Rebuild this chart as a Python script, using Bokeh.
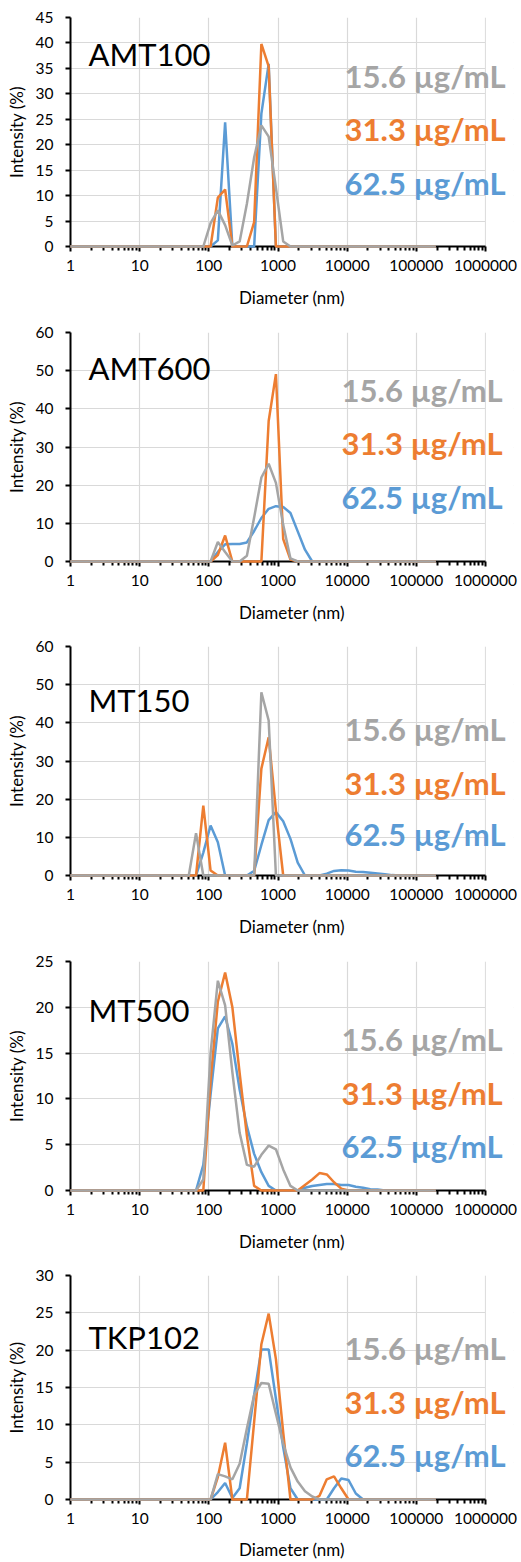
from bokeh.plotting import figure
from bokeh.models import (Label, FixedTicker, SingleIntervalTicker, CustomJSTickFormatter,
                          Range1d, BoxAnnotation)
from bokeh.layouts import column
from bokeh.embed import file_html
from bokeh.resources import INLINE

# ---------------- data ----------------
diameter_nm = [1.0, 1.36, 1.74, 2.21, 2.82, 3.59, 4.57, 5.82, 7.41, 9.44,
               12.0, 15.3, 19.5, 24.8, 31.6, 40.3, 51.3, 65.3, 83.2, 106,
               135, 172, 219, 279, 355, 452, 575, 733, 933, 1189,
               1514, 1928, 2455, 3126, 3981, 5070, 6457, 8222, 10471, 13335,
               16982, 21627, 27542, 35075, 44668, 56885, 72444, 92257, 117490, 149624,
               190546]

panel_names = ["AMT100", "AMT600", "MT150", "MT500", "TKP102"]
concentrations = ["15.6 µg/mL", "31.3 µg/mL", "62.5 µg/mL"]
y_max = [45, 60, 60, 25, 30]
y_step = [5, 10, 10, 5, 5]
x_ticks = [1, 10, 100, 1000, 10000, 100000, 1000000]

amt100_15_6 = [0, 0, 0, 0, 0, 0, 0, 0, 0, 0, 0, 0, 0, 0, 0, 0, 0,
               0, 0, 4.6, 7.1, 4.2, 0.2, 1.0, 8.4, 17.5, 23.8, 21.6, 11.5, 1.0, 0, 0, 0, 0,
               0, 0, 0, 0, 0, 0, 0, 0, 0, 0, 0, 0, 0, 0, 0, 0, 0]
amt100_31_3 = [0, 0, 0, 0, 0, 0, 0, 0, 0, 0, 0, 0, 0, 0, 0, 0, 0,
               0, 0, 0, 9.6, 11.2, 0, 0, 0, 4.8, 39.8, 35.4, 0, 0, 0, 0, 0, 0,
               0, 0, 0, 0, 0, 0, 0, 0, 0, 0, 0, 0, 0, 0, 0, 0, 0]
amt100_62_5 = [0, 0, 0, 0, 0, 0, 0, 0, 0, 0, 0, 0, 0, 0, 0, 0, 0,
               0, 0, 0, 1.2, 24.4, 0, 0, 0, 0, 26.1, 35.9, 0, 0, 0, 0, 0, 0,
               0, 0, 0, 0, 0, 0, 0, 0, 0, 0, 0, 0, 0, 0, 0, 0, 0]

amt600_15_6 = [0, 0, 0, 0, 0, 0, 0, 0, 0, 0, 0, 0, 0, 0, 0, 0, 0,
               0, 0, 0, 5.1, 2.5, 0, 0, 1.5, 11.5, 22.0, 25.6, 20.6, 9.6, 0.8, 0, 0, 0,
               0, 0, 0, 0, 0, 0, 0, 0, 0, 0, 0, 0, 0, 0, 0, 0, 0]
amt600_31_3 = [0, 0, 0, 0, 0, 0, 0, 0, 0, 0, 0, 0, 0, 0, 0, 0, 0,
               0, 0, 0, 1.7, 6.8, 0, 0, 0, 0, 0, 36.8, 49.1, 5.9, 0.5, 0, 0, 0,
               0, 0, 0, 0, 0, 0, 0, 0, 0, 0, 0, 0, 0, 0, 0, 0, 0]
amt600_62_5 = [0, 0, 0, 0, 0, 0, 0, 0, 0, 0, 0, 0, 0, 0, 0, 0, 0,
               0, 0, 0, 2.5, 4.5, 4.6, 4.6, 5.0, 8.0, 11.4, 13.8, 14.5, 14.3, 12.7, 7.9, 3.1, 0,
               0, 0, 0, 0, 0, 0, 0, 0, 0, 0, 0, 0, 0, 0, 0, 0, 0]

mt150_15_6 = [0, 0, 0, 0, 0, 0, 0, 0, 0, 0, 0, 0, 0, 0, 0, 0, 0,
              11.1, 0, 0, 0, 0, 0, 0, 0, 0, 48.0, 40.6, 0, 0, 0, 0, 0, 0,
              0, 0, 0, 0, 0, 0, 0, 0, 0, 0, 0, 0, 0, 0, 0, 0, 0]
mt150_31_3 = [0, 0, 0, 0, 0, 0, 0, 0, 0, 0, 0, 0, 0, 0, 0, 0, 0,
              0, 18.3, 1.3, 0, 0, 0, 0, 0, 0, 28.0, 36.2, 17.0, 0, 0, 0, 0, 0,
              0, 0, 0, 0, 0, 0, 0, 0, 0, 0, 0, 0, 0, 0, 0, 0, 0]
mt150_62_5 = [0, 0, 0, 0, 0, 0, 0, 0, 0, 0, 0, 0, 0, 0, 0, 0, 0,
              0, 6.0, 13.1, 8.7, 0, 0, 0, 0, 1.2, 8.0, 14.5, 16.6, 14.2, 9.6, 3.4, 0, 0,
              0, 0.5, 1.2, 1.4, 1.3, 1.0, 0.9, 0.7, 0.5, 0.3, 0.1, 0, 0, 0, 0, 0, 0]

mt500_15_6 = [0, 0, 0, 0, 0, 0, 0, 0, 0, 0, 0, 0, 0, 0, 0, 0, 0,
              0, 1.2, 15.0, 22.9, 20.2, 12.9, 6.3, 2.8, 2.6, 3.9, 4.9, 4.5, 2.3, 0.5, 0, 0, 0,
              0, 0, 0, 0, 0, 0, 0, 0, 0, 0, 0, 0, 0, 0, 0, 0, 0]
mt500_31_3 = [0, 0, 0, 0, 0, 0, 0, 0, 0, 0, 0, 0, 0, 0, 0, 0, 0,
              0, 0, 12.0, 20.6, 23.8, 20.0, 12.8, 6.0, 0.5, 0, 0, 0, 0, 0, 0, 0.6, 1.2,
              1.9, 1.75, 0.9, 0.2, 0, 0, 0, 0, 0, 0, 0, 0, 0, 0, 0, 0, 0]
mt500_62_5 = [0, 0, 0, 0, 0, 0, 0, 0, 0, 0, 0, 0, 0, 0, 0, 0, 0,
              0, 2.8, 10.5, 17.7, 19.0, 16.0, 11.0, 7.0, 4.0, 2.0, 0.5, 0, 0, 0, 0, 0.3, 0.5,
              0.6, 0.7, 0.7, 0.6, 0.6, 0.4, 0.3, 0.15, 0.1, 0, 0, 0, 0, 0, 0, 0, 0]

tkp102_15_6 = [0, 0, 0, 0, 0, 0, 0, 0, 0, 0, 0, 0, 0, 0, 0, 0, 0,
               0, 0, 0, 3.4, 3.1, 2.7, 4.8, 9.5, 14.0, 15.6, 15.5, 11.5, 7.5, 4.3, 2.4, 1.1, 0.4,
               0, 0, 0, 0, 0, 0, 0, 0, 0, 0, 0, 0, 0, 0, 0, 0, 0]
tkp102_31_3 = [0, 0, 0, 0, 0, 0, 0, 0, 0, 0, 0, 0, 0, 0, 0, 0, 0,
               0, 0, 0, 3.0, 7.6, 0, 0, 0, 10.4, 20.8, 24.9, 18.8, 9.0, 0, 0, 0, 0,
               0.5, 2.7, 3.1, 1.5, 0, 0, 0, 0, 0, 0, 0, 0, 0, 0, 0, 0, 0]
tkp102_62_5 = [0, 0, 0, 0, 0, 0, 0, 0, 0, 0, 0, 0, 0, 0, 0, 0, 0,
               0, 0, 0, 1.0, 2.2, 0.2, 1.5, 7.5, 14.0, 20.1, 20.1, 13.5, 7.0, 1.5, 0, 0, 0,
               0, 0, 1.5, 2.8, 2.6, 0.8, 0, 0, 0, 0, 0, 0, 0, 0, 0, 0, 0]

panel_series = [
    [amt100_15_6, amt100_31_3, amt100_62_5],
    [amt600_15_6, amt600_31_3, amt600_62_5],
    [mt150_15_6, mt150_31_3, mt150_62_5],
    [mt500_15_6, mt500_31_3, mt500_62_5],
    [tkp102_15_6, tkp102_31_3, tkp102_62_5],
]

# ---------------- style ----------------
COLORS = ["#A5A5A5", "#ED7D31", "#5B9BD5"]
FONT = "Lato"
FIG_W = 521
BORDER_L, BORDER_R, BORDER_T = 70, 8, 17
AXIS_W = 415                      # pixel width of the 1..1e6 span
FRAME_W = FIG_W - BORDER_L - BORDER_R
FRAME_H = 229
X_END = 10 ** (6.0 * FRAME_W / AXIS_W)   # frame extends a bit past 1e6 for the labels
fig_heights = [315, 314, 315, 314, 304]
name_baseline = [36, 35, 53, 48, 66]          # px below frame top
legend_baselines = [[58, 111, 165], [57, 110, 164], [82, 136, 187],
                    [77, 131, 184], [77, 131, 184]]
legend_right = [435, 432, 435, 432, 435]

minor = []
for d in range(6):
    for m in range(2, 10):
        minor.append(m * 10 ** d)

figs = []
for i in range(5):
    h = fig_heights[i]
    last = (i == 4)
    p = figure(width=FIG_W, height=h, x_axis_type="log",
               x_range=Range1d(1, X_END), y_range=Range1d(0, y_max[i]),
               output_backend="svg", toolbar_location=None,
               min_border_left=BORDER_L, min_border_right=BORDER_R,
               min_border_top=BORDER_T, min_border_bottom=h - BORDER_T - FRAME_H)
    p.outline_line_color = None
    p.background_fill_color = "white"

    p.xgrid.ticker = FixedTicker(ticks=x_ticks)
    p.xgrid.grid_line_color = "#D9D9D9"
    p.xgrid.grid_line_width = 1.2
    p.ygrid.grid_line_color = "#D9D9D9"
    p.ygrid.grid_line_width = 1.2

    # blank out the grid beyond 1e6 (space used only by the text labels)
    p.add_layout(BoxAnnotation(left=1.012e6, right=X_END * 3, bottom=-100, top=1000,
                               fill_color="white", fill_alpha=1.0, line_color=None,
                               level="underlay"))

    for j in [2, 1, 0]:
        p.line(diameter_nm, panel_series[i][j], line_color=COLORS[j], line_width=2.5,
               level="overlay")

    # x axis
    xa = p.xaxis[0]
    xa.bounds = (1, 1e6)
    xa.ticker = FixedTicker(ticks=x_ticks, minor_ticks=minor)
    xa.formatter = CustomJSTickFormatter(code="return Math.round(tick).toString();")
    xa.axis_line_color = "black"
    xa.axis_line_width = 2
    xa.major_tick_line_color = "black"
    xa.major_tick_line_width = 2
    xa.major_tick_in = 0
    xa.major_tick_out = 5
    xa.minor_tick_line_color = "black"
    xa.minor_tick_line_width = 2
    xa.minor_tick_in = 0
    xa.minor_tick_out = 4
    xa.major_label_text_font = FONT
    xa.major_label_text_font_size = "15.5px"
    xa.major_label_text_color = "black"
    xa.major_label_standoff = 8
    xa.axis_label = "Diameter (nm)"
    xa.axis_label_text_font = FONT
    xa.axis_label_text_font_size = "17px"
    xa.axis_label_text_font_style = "normal"
    xa.axis_label_text_color = "black"
    xa.axis_label_standoff = 12 if last else 13

    # y axis
    ya = p.yaxis[0]
    ya.ticker = SingleIntervalTicker(interval=y_step[i], num_minor_ticks=0)
    ya.axis_line_color = "black"
    ya.axis_line_width = 2
    ya.major_tick_line_color = "black"
    ya.major_tick_line_width = 2
    ya.major_tick_in = 0
    ya.major_tick_out = 5
    ya.minor_tick_line_color = None
    ya.major_label_text_font = FONT
    ya.major_label_text_font_size = "15.5px"
    ya.major_label_text_color = "black"
    ya.major_label_standoff = 12
    ya.axis_label = "Intensity (%)"
    ya.axis_label_text_font = FONT
    ya.axis_label_text_font_size = "17px"
    ya.axis_label_text_font_style = "normal"
    ya.axis_label_text_color = "black"
    ya.axis_label_standoff = 6

    p.add_layout(Label(x=18, y=FRAME_H - name_baseline[i], x_units="screen", y_units="screen",
                       text=panel_names[i], text_font=FONT, text_font_size="31px",
                       text_color="black", text_align="left", text_baseline="alphabetic"))
    for j in range(3):
        p.add_layout(Label(x=legend_right[i], y=FRAME_H - legend_baselines[i][j],
                           x_units="screen", y_units="screen",
                           text=concentrations[j], text_font=FONT, text_font_size="31px",
                           text_font_style="bold", text_color=COLORS[j],
                           text_align="right", text_baseline="alphabetic"))
    figs.append(p)

layout = column(*figs, spacing=0)
open("out.html", "w").write(file_html(layout, INLINE))
